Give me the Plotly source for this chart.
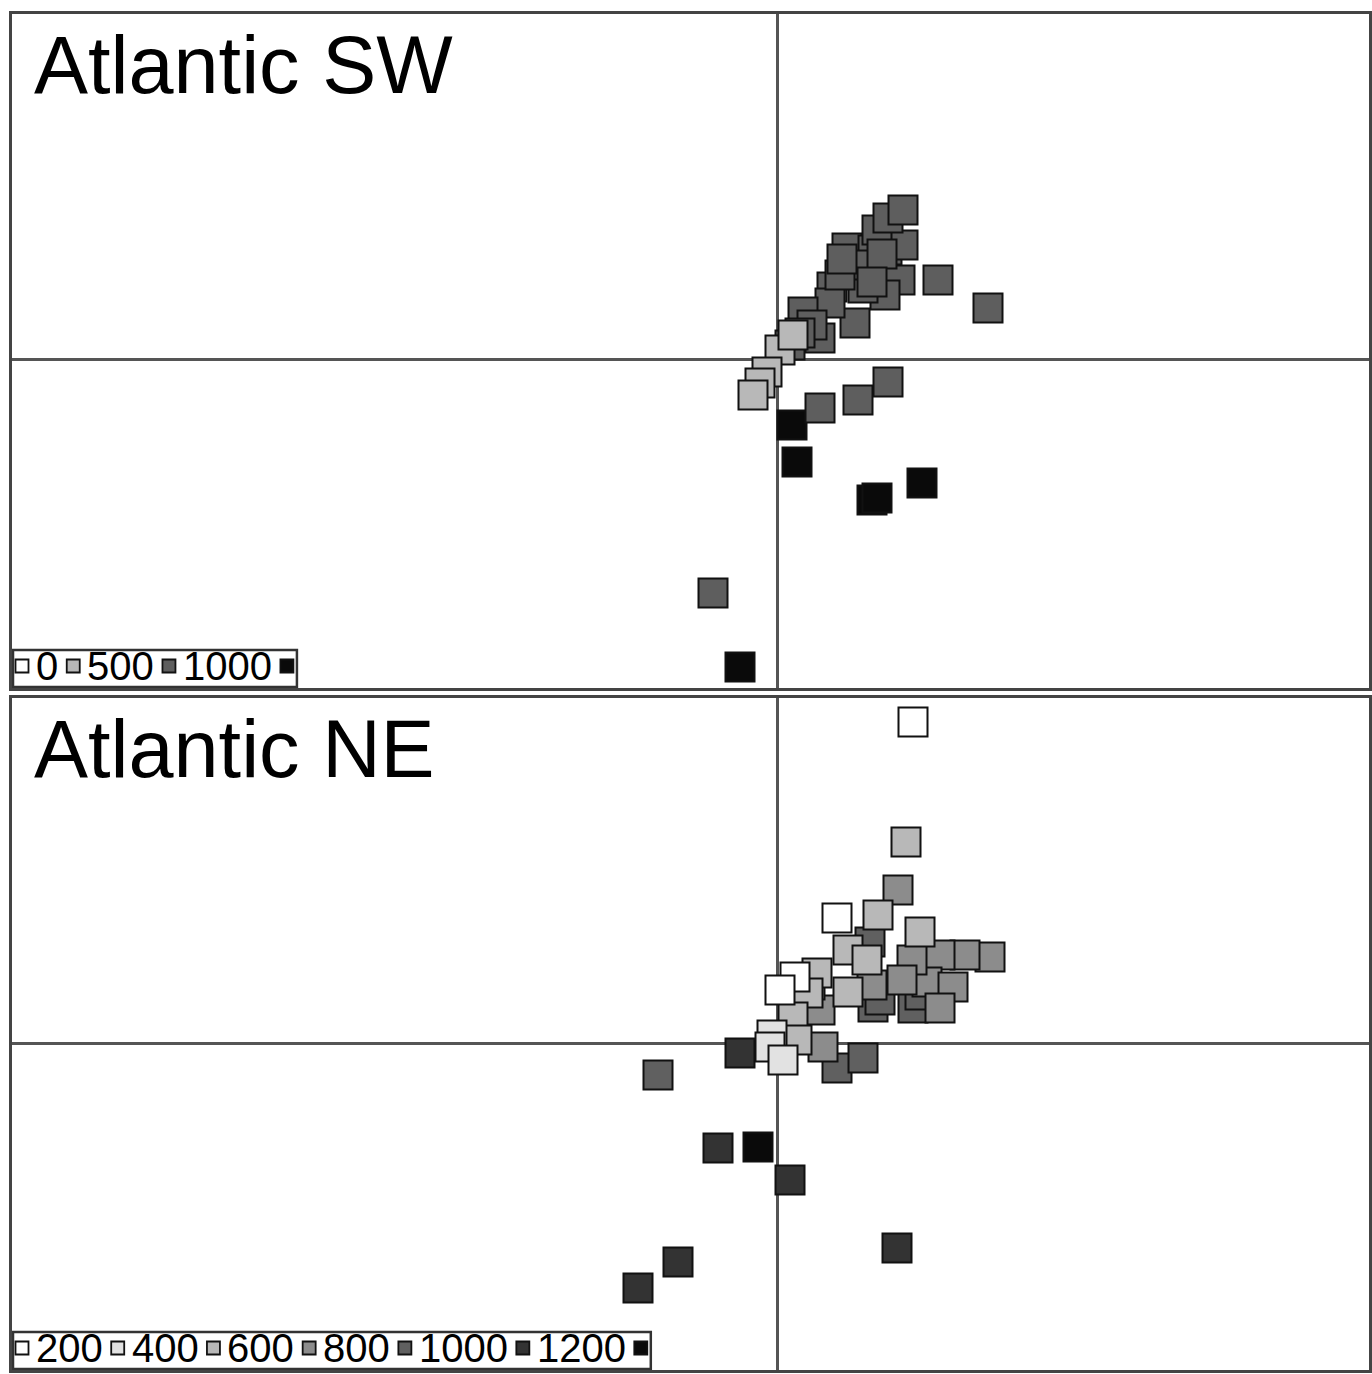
import plotly.graph_objects as go

W, H = 1372, 1374

# ---------------- data (ordination scores) ----------------
# Atlantic SW
sw_black_x = [0.15, 0.20, 0.95, 1.00, 1.45, -0.37]
sw_black_y = [-0.66, -1.03, -1.41, -1.39, -1.24, -3.08]
sw_dark_x = [-0.64, 0.43, 0.81, 1.11, 2.11, 1.61, 1.23, 1.08, 0.86, 0.78, 0.55, 0.53,
             0.26, 0.43, 0.70, 0.96, 1.10, 1.26, 1.00, 1.11, 1.26, 0.83, 0.63, 0.35,
             0.13, 0.23, 1.05, 0.65, 0.95]
sw_dark_y = [-2.34, -0.49, -0.41, -0.23, 0.51, 0.79, 0.79, 0.64, 0.71, 0.36, 0.72, 0.56,
             0.47, 0.21, 1.11, 1.09, 1.09, 1.14, 1.29, 1.41, 1.49, 0.94, 0.84, 0.34,
             0.14, 0.26, 1.05, 1.00, 0.77]
sw_light_x = [0.03, -0.10, -0.17, -0.24, 0.16]
sw_light_y = [0.09, -0.13, -0.24, -0.36, 0.24]

# Atlantic NE
ne_white_x = [1.36, 0.60, 0.18, 0.03]
ne_white_y = [3.21, 1.25, 0.66, 0.53]
ne_vlight_x = [-0.05, -0.07, 0.06]
ne_vlight_y = [0.08, -0.04, -0.17]
ne_light_x = [1.29, 1.01, 1.43, 0.71, 0.90, 0.71, 0.40, 0.31, 0.16, 0.20]
ne_light_y = [2.01, 1.28, 1.11, 0.93, 0.83, 0.51, 0.70, 0.50, 0.26, 0.03]
ne_mid_x = [1.21, 2.13, 1.88, 1.63, 1.50, 1.35, 0.95, 1.25, 1.76, 0.43, 0.46, 1.63, 0.33]
ne_mid_y = [1.53, 0.86, 0.88, 0.88, 0.61, 0.83, 0.58, 0.63, 0.56, 0.33, -0.04, 0.35, 0.58]
ne_dark_x = [0.93, 0.96, 1.36, 0.60, 0.86, -1.19, 1.03, 1.43]
ne_dark_y = [1.01, 0.36, 0.35, -0.25, -0.15, -0.32, 0.43, 0.48]
ne_darker_x = [-0.37, -0.59, 0.13, 1.20, -0.99, -1.39]
ne_darker_y = [-0.10, -1.05, -1.37, -2.05, -2.19, -2.45]
ne_black_x = [-0.19]
ne_black_y = [-1.04]

# legend (depth classes)
sw_legend_labels = ["0", "500", "1000", ""]
sw_legend_colors = ["#ffffff", "#b8b8b8", "#5e5e5e", "#0a0a0a"]
ne_legend_labels = ["200", "400", "600", "800", "1000", "1200", ""]
ne_legend_colors = ["#ffffff", "#e2e2e2", "#b8b8b8", "#8c8c8c", "#606060", "#333333", "#0a0a0a"]

panel_titles = ["Atlantic SW", "Atlantic NE"]

# ---------------- figure ----------------
def px(x):
    return x / W

def py(y):
    return 1 - y / H

FONT = "Liberation Sans, Arial, sans-serif"
MSIZE = 29

fig = go.Figure()

def add(x, y, color, xa, ya):
    fig.add_trace(go.Scatter(
        x=x, y=y, mode="markers", xaxis=xa, yaxis=ya, showlegend=False,
        hoverinfo="skip",
        marker=dict(symbol="square", size=MSIZE, color=color,
                    line=dict(color="#111111", width=2))))

# top panel
add(sw_black_x, sw_black_y, "#0a0a0a", "x", "y")
add(sw_dark_x, sw_dark_y, "#5e5e5e", "x", "y")
add(sw_light_x, sw_light_y, "#b8b8b8", "x", "y")
# bottom panel
add(ne_darker_x, ne_darker_y, "#333333", "x2", "y2")
add(ne_black_x, ne_black_y, "#0a0a0a", "x2", "y2")
add(ne_dark_x, ne_dark_y, "#606060", "x2", "y2")
add(ne_mid_x, ne_mid_y, "#8c8c8c", "x2", "y2")
add(ne_light_x, ne_light_y, "#b8b8b8", "x2", "y2")
add(ne_vlight_x, ne_vlight_y, "#e2e2e2", "x2", "y2")
add(ne_white_x, ne_white_y, "#ffffff", "x2", "y2")

axis_common = dict(showgrid=False, showticklabels=False, ticks="",
                   zeroline=True, zerolinecolor="#555555", zerolinewidth=2.5,
                   showline=True, mirror=True, linecolor="#444444", linewidth=2.5)

fig.update_layout(
    width=W, height=H, margin=dict(l=0, r=0, t=0, b=0),
    paper_bgcolor="white", plot_bgcolor="white",
    xaxis=dict(domain=[px(12), px(1369)], range=[-7.65, 5.92], anchor="y", **axis_common),
    yaxis=dict(domain=[py(688), py(14)], range=[-3.29, 3.45], anchor="x", **axis_common),
    xaxis2=dict(domain=[px(12), px(1369)], range=[-7.65, 5.92], anchor="y2", **axis_common),
    yaxis2=dict(domain=[py(1370), py(698)], range=[-3.27, 3.45], anchor="x2", **axis_common),
)

annotations = []
shapes = []

# panel titles
for title, ycap in zip(panel_titles, [63, 747]):
    annotations.append(dict(text=title, xref="paper", yref="paper", x=px(32), y=py(ycap + 2),
                            xanchor="left", yanchor="middle", showarrow=False,
                            font=dict(family=FONT, size=81, color="black")))

# legends
LFONT = 40
DIGIT = 0.556 * LFONT

def build_legend(labels, colors, bottom):
    cx = 22
    ymid = bottom - 21
    for lab, col in zip(labels, colors):
        shapes.append(dict(type="rect", xref="paper", yref="paper",
                           x0=px(cx - 6.5), x1=px(cx + 6.5), y0=py(ymid + 6.5), y1=py(ymid - 6.5),
                           fillcolor=col, line=dict(color="#111111", width=1.8)))
        if lab:
            tx = cx + 12
            annotations.append(dict(text=lab, xref="paper", yref="paper", x=px(tx), y=py(ymid),
                                    xanchor="left", yanchor="middle", showarrow=False,
                                    font=dict(family=FONT, size=LFONT, color="black")))
            cx = tx + len(lab) * DIGIT + 17
    right = cx + 10
    shapes.insert(0, dict(type="rect", xref="paper", yref="paper", layer="below",
                          x0=px(13), x1=px(right), y0=py(bottom), y1=py(bottom - 37),
                          fillcolor="white", line=dict(color="#333333", width=2.5)))

build_legend(sw_legend_labels, sw_legend_colors, 687)
build_legend(ne_legend_labels, ne_legend_colors, 1369)

fig.update_layout(annotations=annotations, shapes=shapes)

fig.write_html("out.html")
